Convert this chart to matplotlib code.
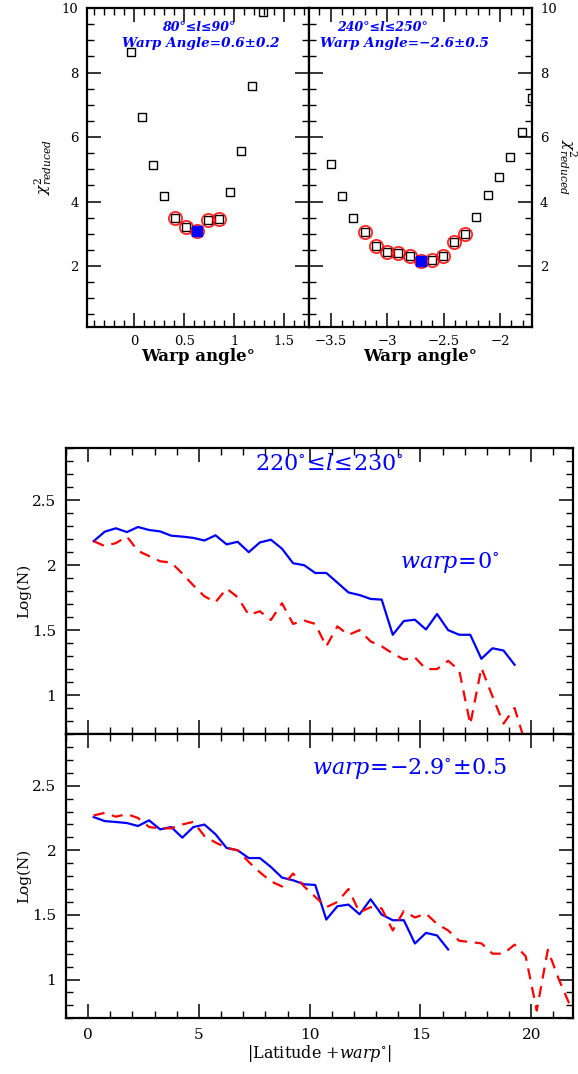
import numpy as np
import matplotlib
matplotlib.use("Agg")
import matplotlib.pyplot as plt
from matplotlib.ticker import MultipleLocator, FuncFormatter

plt.rcParams['mathtext.fontset'] = 'dejavuserif'
plt.rcParams['font.family'] = 'DejaVu Serif'

# --- reduced chi^2 versus trial warp angle, 80 deg <= l <= 90 deg
warp_a = [-0.03, 0.08, 0.19, 0.30, 0.41, 0.52, 0.63, 0.74, 0.85, 0.96, 1.07, 1.18, 1.29]
chi_a = [8.65, 6.63, 5.13, 4.16, 3.49, 3.21, 3.09, 3.43, 3.46, 4.29, 5.57, 7.58, 9.88]
ring_a = [4, 5, 6, 7, 8]
best_a = 6

# --- reduced chi^2 versus trial warp angle, 240 deg <= l <= 250 deg
warp_b = [-3.50, -3.40, -3.30, -3.195, -3.10, -3.00, -2.90, -2.80, -2.70, -2.60,
          -2.51, -2.41, -2.31, -2.21, -2.11, -2.01, -1.91, -1.81, -1.72]
chi_b = [5.17, 4.18, 3.49, 3.07, 2.61, 2.44, 2.40, 2.30, 2.15, 2.20,
         2.30, 2.75, 3.00, 3.53, 4.21, 4.75, 5.37, 6.17, 7.22]
ring_b = [3, 4, 5, 6, 7, 8, 9, 10, 11, 12]
best_b = 8

# --- star counts, 220 deg <= l <= 230 deg
bins = np.arange(0.25, 22.0, 0.5)

# warp = 0
north_0 = [2.185, 2.258, 2.284, 2.255, 2.294, 2.271, 2.26, 2.227, 2.22, 2.21,
           2.19, 2.23, 2.16, 2.18, 2.10, 2.175, 2.196, 2.127, 2.015, 2.00,
           1.94, 1.94, 1.866, 1.79, 1.77, 1.74, 1.735, 1.464, 1.57, 1.58,
           1.505, 1.624, 1.50, 1.464, 1.464, 1.279, 1.36, 1.343, 1.233]
south_0 = [2.185, 2.147, 2.17, 2.22, 2.11, 2.07, 2.03, 2.02, 1.936, 1.844,
           1.76, 1.715, 1.82, 1.753, 1.617, 1.645, 1.578, 1.707, 1.548, 1.573,
           1.548, 1.375, 1.529, 1.463, 1.50, 1.413, 1.375, 1.32, 1.274, 1.29,
           1.20, 1.20, 1.264, 1.19, 0.775, 1.21, 0.99, 0.78, 0.90, 0.62]

# warp = -2.9
north_w = [2.257, 2.226, 2.219, 2.211, 2.188, 2.232, 2.162, 2.18, 2.098, 2.18,
           2.199, 2.124, 2.018, 2.00, 1.94, 1.94, 1.871, 1.789, 1.768, 1.737,
           1.732, 1.464, 1.567, 1.58, 1.505, 1.621, 1.503, 1.459, 1.459, 1.279,
           1.361, 1.341, 1.233]
south_w = [2.27, 2.29, 2.26, 2.28, 2.25, 2.18, 2.17, 2.17, 2.20, 2.22,
           2.11, 2.06, 2.02, 2.00, 1.91, 1.83, 1.76, 1.72, 1.82, 1.72,
           1.64, 1.56, 1.60, 1.70, 1.52, 1.56, 1.55, 1.38, 1.53, 1.48,
           1.51, 1.43, 1.38, 1.30, 1.29, 1.28, 1.20, 1.20, 1.27, 1.18,
           0.76, 1.23, 1.00, 0.80]

BLUE = '#0000ff'
RED = '#ff0000'

fig = plt.figure(figsize=(5.78, 10.74), dpi=100)
W, H = 578.0, 1074.0


def box(x0, y0, x1, y1):
    return [x0 / W, 1 - y1 / H, (x1 - x0) / W, (y1 - y0) / H]


def plain(v, _pos=None):
    s = ('%.2f' % v).rstrip('0').rstrip('.')
    if s in ('-0', ''):
        s = '0'
    return s.replace('-', '\u2212')


def style(ax, lw=1.6):
    for s in ax.spines.values():
        s.set_linewidth(lw)
    ax.tick_params(which='both', direction='in', top=True, right=True)
    ax.tick_params(which='major', length=10, width=1.1)
    ax.tick_params(which='minor', length=5, width=1.0)


def chi_panel(ax, x, y, ring, best, xlim):
    ax.plot(x, y, ls='none', marker='s', ms=6.2, mfc='none', mec='black', mew=1.0)
    ax.plot([x[i] for i in ring], [y[i] for i in ring], ls='none', marker='o',
            ms=9.5, mfc='none', mec=RED, mew=1.3, alpha=0.85)
    ax.plot([x[best]], [y[best]], ls='none', marker='s', ms=7, mfc=BLUE, mec=BLUE)
    ax.set_xlim(*xlim)
    ax.set_ylim(0.12, 10)
    ax.yaxis.set_major_locator(MultipleLocator(2))
    ax.yaxis.set_minor_locator(MultipleLocator(0.5))
    ax.xaxis.set_major_locator(MultipleLocator(0.5))
    ax.xaxis.set_minor_locator(MultipleLocator(0.1))
    ax.xaxis.set_major_formatter(FuncFormatter(plain))
    ax.yaxis.set_major_formatter(FuncFormatter(plain))
    style(ax)
    ax.tick_params(labelsize=9.5, pad=6)
    ax.set_xlabel('Warp angle°', fontsize=12, fontweight='bold', labelpad=0)


axA = fig.add_axes(box(87, 8, 309.3, 326.7))
chi_panel(axA, warp_a, chi_a, ring_a, best_a, (-0.47, 1.75))
axA.set_yticks([2, 4, 6, 8, 10])
axA.set_ylabel(r'$\chi^{2}_{reduced}$', fontsize=11, labelpad=6)
axA.text(0.5, 0.94, '80°≤l≤90°', transform=axA.transAxes, ha='center', va='center',
         color=BLUE, fontsize=9, fontweight='bold', style='italic')
axA.text(0.51, 0.89, 'Warp Angle=0.6±0.2', transform=axA.transAxes, ha='center',
         va='center', color=BLUE, fontsize=9.7, fontweight='bold', style='italic')

axB = fig.add_axes(box(309.3, 8, 531.7, 326.7))
chi_panel(axB, warp_b, chi_b, ring_b, best_b, (-3.69, -1.72))
axB.set_yticks([2, 4, 6, 8, 10])
axB.tick_params(labelleft=False, labelright=True)
axB.yaxis.set_label_position('right')
axB.set_ylabel(r'$\chi^{2}_{reduced}$', fontsize=11, rotation=270, labelpad=16)
axB.text(0.33, 0.94, '240°≤l≤250°', transform=axB.transAxes, ha='center',
         va='center', color=BLUE, fontsize=9, fontweight='bold', style='italic')
axB.text(0.43, 0.89, 'Warp Angle=−2.6±0.5', transform=axB.transAxes, ha='center',
         va='center', color=BLUE, fontsize=9.7, fontweight='bold', style='italic')


def count_panel(ax, north, south):
    ax.plot(bins[:len(north)], north, color=BLUE, lw=1.6)
    ax.plot(bins[:len(south)], south, color=RED, lw=1.6, ls=(0, (5, 3.5)))
    ax.set_xlim(-1.0, 21.9)
    ax.set_ylim(0.7, 2.9)
    ax.xaxis.set_major_locator(MultipleLocator(5))
    ax.xaxis.set_minor_locator(MultipleLocator(1))
    ax.yaxis.set_major_locator(MultipleLocator(0.5))
    ax.yaxis.set_minor_locator(MultipleLocator(0.1))
    style(ax)
    ax.tick_params(labelsize=11, pad=7)
    ax.set_yticks([1, 1.5, 2, 2.5])
    ax.set_yticklabels(['1', '1.5', '2', '2.5'])
    ax.set_ylabel('Log(N)', fontsize=11, labelpad=1)


axC = fig.add_axes(box(66, 448.3, 573.3, 734))
count_panel(axC, north_0, south_0)
axC.tick_params(labelbottom=False)
axC.text(0.52, 0.945, r'$220^{\circ}\!\leq\!\mathbf{\mathit{l}}\!\leq\!230^{\circ}$',
         transform=axC.transAxes, ha='center', va='center', color=BLUE, fontsize=16)
axC.text(0.757, 0.6, r'$warp\!=\!0^{\circ}$', transform=axC.transAxes, ha='center',
         va='center', color=BLUE, fontsize=16)

axD = fig.add_axes(box(66, 734, 573.3, 1018.3))
count_panel(axD, north_w, south_w)
axD.text(0.678, 0.88, r'$warp\!=\!{-}2.9^{\circ}\!\pm\!0.5$', transform=axD.transAxes,
         ha='center', va='center', color=BLUE, fontsize=16)
axD.set_xlabel(r'|Latitude $+\mathit{warp}^{\circ}$|', fontsize=11.5, labelpad=1)

fig.savefig('out.png', dpi=100)
